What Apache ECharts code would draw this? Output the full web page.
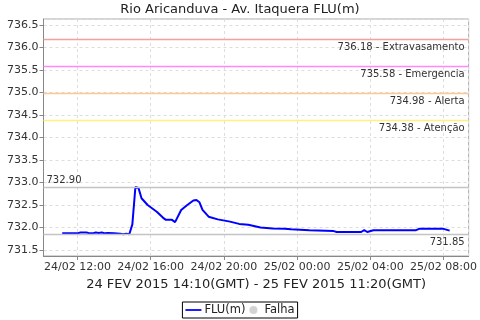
<!DOCTYPE html>
<html>
<head>
<meta charset="utf-8">
<script src="https://cdn.jsdelivr.net/npm/echarts@6/dist/echarts.min.js"></script>
<style>html,body{margin:0;padding:0;background:#fff}#c{width:480px;height:320px}</style>
</head>
<body>
<div id="c"></div>
<script>
// Local time (GMT-3) readings
var times = ['24/02 11:10','24/02 12:00','24/02 12:10','24/02 12:30','24/02 12:40','24/02 12:50','24/02 13:00','24/02 13:10','24/02 13:20','24/02 13:30','24/02 13:40','24/02 14:00','24/02 14:20','24/02 14:30','24/02 14:40','24/02 14:50','24/02 15:00','24/02 15:10','24/02 15:20','24/02 15:30','24/02 15:50','24/02 16:20','24/02 16:40','24/02 16:50','24/02 17:10','24/02 17:20','24/02 17:40','24/02 18:00','24/02 18:20','24/02 18:30','24/02 18:40','24/02 18:50','24/02 19:10','24/02 19:40','24/02 20:20','24/02 20:50','24/02 21:20','24/02 22:00','24/02 22:40','24/02 23:20','24/02 23:40','25/02 00:40','25/02 02:00','25/02 02:10','25/02 03:30','25/02 03:40','25/02 03:50','25/02 04:10','25/02 06:30','25/02 06:40','25/02 08:00','25/02 08:20'];
var levels = [731.87,731.87,731.89,731.89,731.87,731.87,731.89,731.88,731.89,731.87,731.88,731.87,731.86,731.85,731.86,731.85,732.07,732.90,732.88,732.65,732.50,732.35,732.22,732.17,732.17,732.12,732.39,732.50,732.60,732.61,732.56,732.39,732.24,732.18,732.13,732.08,732.06,732.00,731.98,731.97,731.96,731.94,731.92,731.90,731.90,731.94,731.90,731.94,731.94,731.97,731.97,731.93];
var thresholdValues = [736.18, 735.58, 734.98, 734.38];
var thresholdNames = ['Extravasamento', 'Emergencia', 'Alerta', 'Atenção'];
var thresholdColors = ['#f4a0a0', '#ff88ff', '#ffc890', '#fff080'];
var titleText = 'Rio Aricanduva - Av. Itaquera FLU(m)';
var periodText = '24 FEV 2015 14:10(GMT) - 25 FEV 2015 11:20(GMT)';

function toHours(s) {
  var d = parseInt(s.substr(0, 2), 10), hh = parseInt(s.substr(6, 2), 10), mm = parseInt(s.substr(9, 2), 10);
  return (d - 24) * 24 + hh + mm / 60;
}
function fmtHours(h) {
  var d = 24 + Math.floor(h / 24);
  var hh = Math.round(h - Math.floor(h / 24) * 24);
  var p = function (n) { return (n < 10 ? '0' : '') + n; };
  return p(d) + '/02 ' + p(hh) + ':00';
}
var seriesData = times.map(function (t, i) { return [toHours(t), levels[i]]; });

var font = 'DejaVu Sans';
var markData = thresholdValues.map(function (v, i) {
  return {
    yAxis: v, name: thresholdNames[i],
    lineStyle: { color: thresholdColors[i], type: 'solid', width: 1.3 },
    label: { position: 'insideEndBottom', distance: [4, 3], formatter: v.toFixed(2) + ' - ' + thresholdNames[i] }
  };
});
markData.push({ type: 'max', lineStyle: { color: '#c4c4c4', type: 'solid', width: 1.3 },
  label: { position: 'insideStartTop', distance: [3, 2], formatter: function (p) { return p.value.toFixed(2); } } });
markData.push({ type: 'min', lineStyle: { color: '#c4c4c4', type: 'solid', width: 1.3 },
  label: { position: 'insideEndBottom', distance: [4, 3], formatter: function (p) { return p.value.toFixed(2); } } });

var chart = echarts.init(document.getElementById('c'));
chart.setOption({
  animation: false,
  textStyle: { fontFamily: font },
  title: { text: titleText, left: 'center', top: -2, textStyle: { fontFamily: font, fontSize: 13, fontWeight: 'normal', color: '#222' } },
  grid: { left: 43.5, right: 8, top: 19, bottom: 64, show: true, borderColor: '#aaa', borderWidth: 1, containLabel: false },
  xAxis: {
    type: 'value', min: 10.146, max: 33.37, splitNumber: 5, minInterval: 4, maxInterval: 4,
    name: periodText, nameLocation: 'middle', nameGap: 20,
    nameTextStyle: { fontFamily: font, fontSize: 13, color: '#222' },
    axisLine: { lineStyle: { color: '#888' } },
    axisTick: { show: true, length: 4, lineStyle: { color: '#888' } },
    axisLabel: { showMinLabel: false, showMaxLabel: false, fontSize: 11, color: '#333', margin: 6, formatter: fmtHours },
    splitLine: { show: true, lineStyle: { color: '#ddd', type: [3, 3] } }
  },
  yAxis: {
    type: 'value', min: 731.367, max: 736.63, splitNumber: 10, minInterval: 0.5, maxInterval: 0.5,
    axisLine: { show: true, lineStyle: { color: '#888' } },
    axisTick: { show: true, length: 4, lineStyle: { color: '#888' } },
    axisLabel: { showMinLabel: false, showMaxLabel: false, fontSize: 11, color: '#333', margin: 5, formatter: function (v) { return v.toFixed(1); } },
    splitLine: { show: true, lineStyle: { color: '#ddd', type: [3, 3] } }
  },
  legend: {
    left: 'center', bottom: 2,
    data: [{ name: 'FLU(m)', icon: 'path://M0,0 L18,0 L18,2 L0,2 Z' }, { name: 'Falha', icon: 'circle' }],
    borderColor: '#000', borderWidth: 1, borderRadius: 0, padding: [2, 3],
    itemWidth: 16, itemHeight: 8, itemGap: 4,
    textStyle: { fontFamily: font, fontSize: 11.5, color: '#222', padding: [0, 0, 0, -2] }
  },
  series: [
    {
      name: 'FLU(m)', type: 'line', data: seriesData, symbol: 'none',
      lineStyle: { color: '#0000ff', width: 2 }, itemStyle: { color: '#0000ff' },
      markLine: {
        silent: true, symbol: 'none',
        label: { fontFamily: font, fontSize: 10, color: '#333' },
        data: markData
      }
    },
    { name: 'Falha', type: 'scatter', data: [], itemStyle: { color: '#c8c8c8' } }
  ]
});
</script>
</body>
</html>
